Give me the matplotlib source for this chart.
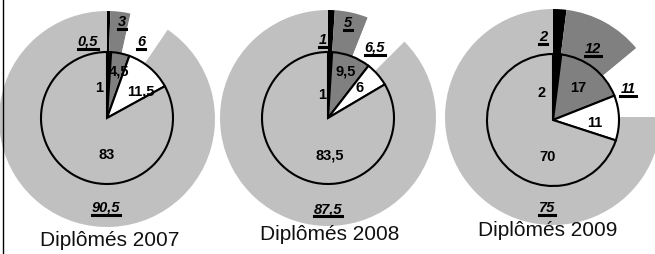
import matplotlib
matplotlib.use("Agg")
import matplotlib.pyplot as plt
from matplotlib.lines import Line2D

plt.rcParams["font.family"] = ["Liberation Sans", "DejaVu Sans"]

# ── Data ──────────────────────────────────────────────────────────────────────
titles = ["Diplômés 2007", "Diplômés 2008", "Diplômés 2009"]
inner_vals = [[1, 4.5, 11.5, 83], [1, 9.5, 6, 83.5], [2, 17, 11, 70]]
outer_vals = [[0.5, 3, 6, 90.5], [1, 5, 6.5, 87.5], [2, 12, 11, 75]]

# ── Layout (pixel coords, y measured from top) ───────────────────────────────
W, H = 655, 254
COLORS = ["#000000", "#808080", "#ffffff", "#c0c0c0"]
centers = [(107, 118), (328, 118), (553, 120)]
outer_centers = [(107, 119), (328, 118), (553, 117)]
R_IN, R_OUT = 66, 108
inner_pos = [
    [(99, 88), (119, 72), (141, 91), (107, 155)],
    [(322, 95), (346, 71), (360, 88), (330, 155)],
    [(542, 93), (578, 88), (595, 123), (548, 157)],
]
outer_pos = [
    [(88, 42), (122, 22), (141, 42), (106, 208)],
    [(323, 40), (348, 23), (375, 48), (328, 209)],
    [(543, 37), (593, 49), (628, 89), (547, 208)],
]
title_pos = [(110, 241), (330, 234), (548, 231)]


def fmt(v):
    return f"{v:g}".replace(".", ",")


fig = plt.figure(figsize=(W / 100, H / 100), dpi=100)
ax = fig.add_axes([0, 0, 1, 1])

for (cx, cy), vals in zip(outer_centers, outer_vals):
    ax.pie(vals, colors=COLORS, startangle=90, counterclock=False,
           radius=R_OUT, center=(cx, H - cy), frame=True,
           wedgeprops=dict(linewidth=0))

for (cx, cy), vals in zip(centers, inner_vals):
    ax.pie(vals, colors=COLORS, startangle=90, counterclock=False,
           radius=R_IN, center=(cx, H - cy), frame=True,
           wedgeprops=dict(edgecolor="black", linewidth=1.5))

ax.set_xlim(0, W)
ax.set_ylim(0, H)
ax.set_aspect("auto")
ax.axis("off")

outer_texts = []
for p in range(3):
    for v, (x, y) in zip(inner_vals[p], inner_pos[p]):
        ax.text(x, H - y, fmt(v), ha="center", va="center",
                fontsize=10.5, fontweight="bold", color="black")
    for v, (x, y) in zip(outer_vals[p], outer_pos[p]):
        t = ax.text(x, H - y, fmt(v), ha="center", va="center",
                    fontsize=10.5, fontweight="bold", fontstyle="italic",
                    color="black")
        outer_texts.append(t)
    tx, ty = title_pos[p]
    ax.text(tx, H - ty, titles[p], ha="center", va="center",
            fontsize=15, color="#111111")

# underline the outer-ring labels
fig.canvas.draw()
r = fig.canvas.get_renderer()
for t in outer_texts:
    bb = t.get_window_extent(r)
    y = bb.y0 + 0.5
    fig.add_artist(Line2D([bb.x0 / W, bb.x1 / W], [y / H, y / H],
                          color="black", linewidth=2.2,
                          transform=fig.transFigure))

# left frame line
fig.add_artist(Line2D([3 / W, 3 / W], [0, 1], color="black",
                      linewidth=1.0, transform=fig.transFigure))

fig.savefig("out.png", dpi=100)
